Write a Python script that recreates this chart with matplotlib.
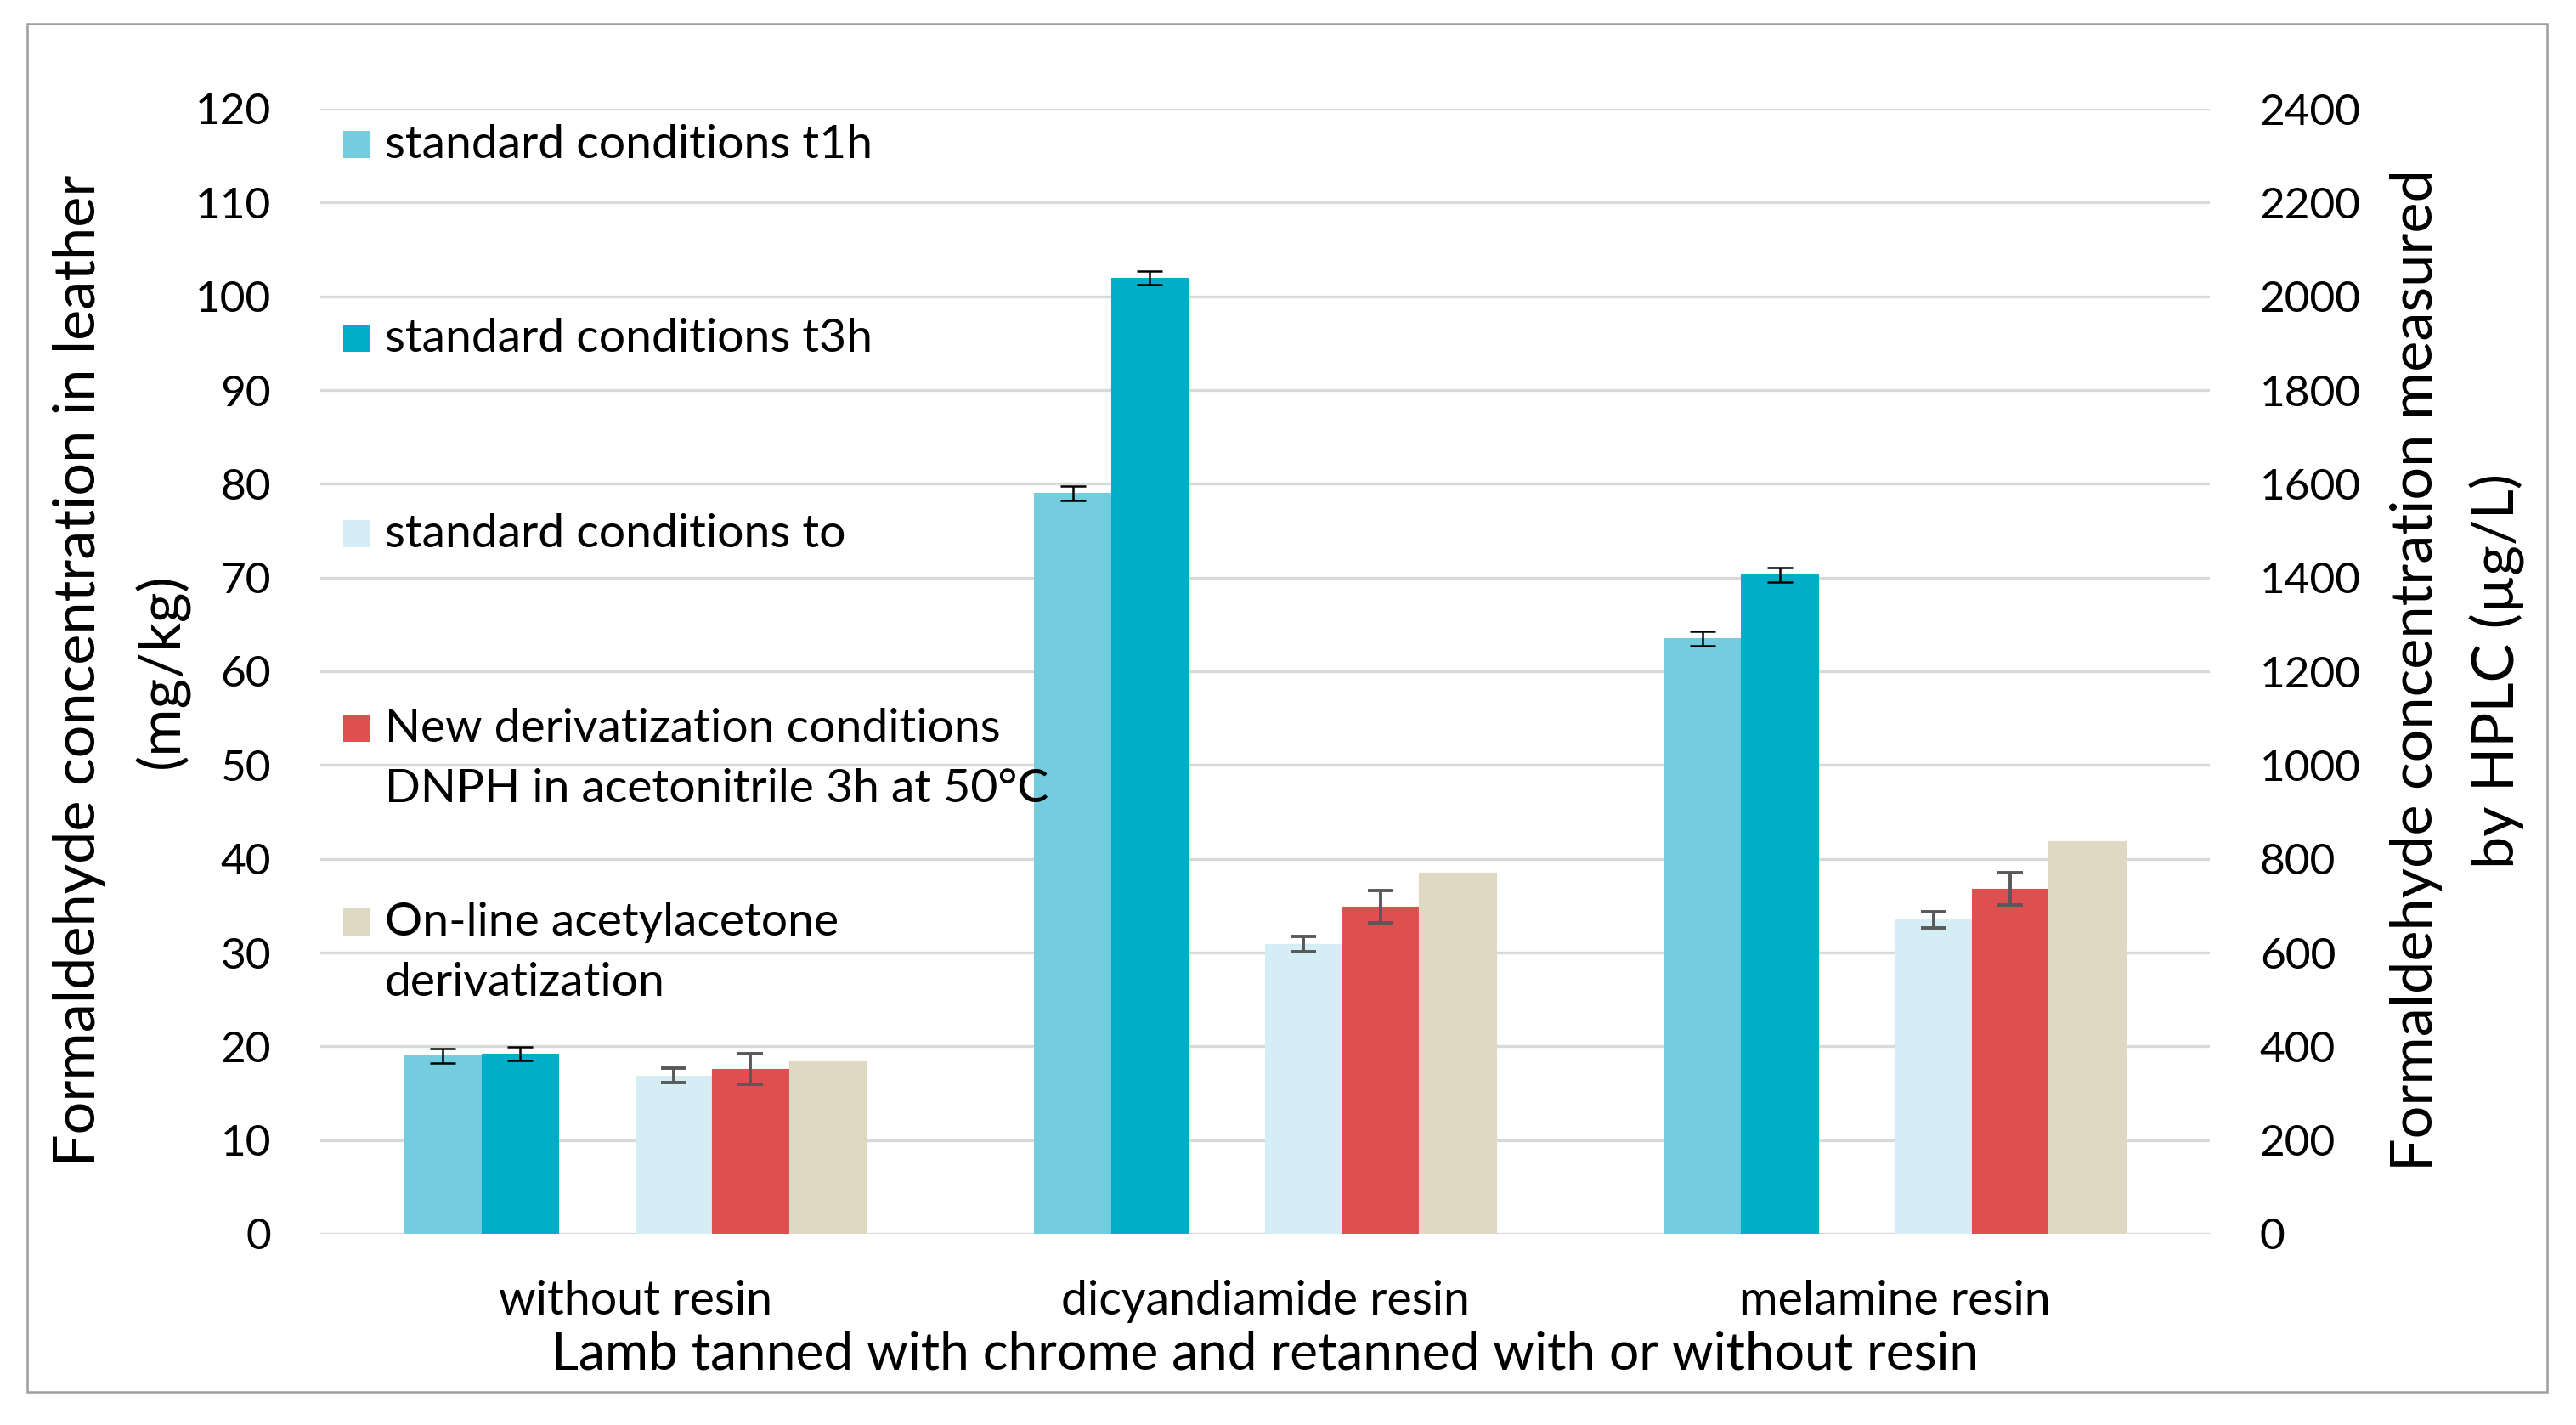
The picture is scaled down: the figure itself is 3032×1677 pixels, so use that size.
import matplotlib
matplotlib.use("Agg")
import matplotlib.pyplot as plt
from matplotlib.patches import Rectangle
import numpy as np

plt.rcParams['font.family'] = ['Lato', 'DejaVu Sans']

# ---------------- data ----------------
categories = ["without resin", "dicyandiamide resin", "melamine resin"]
series_names = ["standard conditions t1h", "standard conditions t3h", "standard conditions to",
                "New derivatization conditions\nDNPH in acetonitrile 3h at 50°C",
                "On-line acetylacetone\nderivatization"]
t1h = [19.0, 79.0, 63.5]
t1h_err = [0.8, 0.75, 0.78]
t3h = [19.2, 102.0, 70.3]
t3h_err = [0.75, 0.73, 0.78]
t0 = [16.9, 30.9, 33.5]
t0_err = [0.75, 0.85, 0.83]
new_deriv = [17.6, 34.9, 36.8]
new_deriv_err = [1.65, 1.7, 1.74]
online = [18.4, 38.5, 41.9]

left_ticks = list(range(0, 121, 10))
right_ticks = list(range(0, 2401, 200))

colors = ["#74CCDF", "#00AEC7", "#D5EEF5", "#DE4F4F", "#DFD9C3"]

W, H, DPI = 3032, 1677, 200
fig = plt.figure(figsize=(W / DPI, H / DPI), dpi=DPI)

def fx(px):
    return px / W

def fy(py):
    return 1 - py / H

ax_l, ax_r, ax_t, ax_b = 377, 2601, 128, 1452
ax = fig.add_axes([fx(ax_l), fy(ax_b), fx(ax_r) - fx(ax_l), fy(ax_t) - fy(ax_b)])

x = np.arange(len(categories))
bw = 0.1221
offsets = [-2.5, -1.5, 0.5, 1.5, 2.5]
values = [t1h, t3h, t0, new_deriv, online]
errs = [t1h_err, t3h_err, t0_err, new_deriv_err, None]
ecols = ["black", "black", "#595959", "#595959", None]
elws = [0.9, 0.9, 1.4, 1.4, None]

for vals, err, off, col, ec, elw in zip(values, errs, offsets, colors, ecols, elws):
    ax.bar(x + off * bw, vals, width=bw, color=col, edgecolor=col, linewidth=0.4, zorder=2)
    if err is not None:
        ax.errorbar(x + off * bw, vals, yerr=err, fmt='none', ecolor=ec, elinewidth=elw,
                    capsize=5.4, capthick=elw, zorder=3)

ax.set_xlim(-0.5, 2.5)
ax.set_ylim(0, 120)
ax.set_yticks(left_ticks)
ax.yaxis.grid(True, color="#D9D9D9", linewidth=1.2, zorder=0)
ax.set_axisbelow(True)
for s in ax.spines.values():
    s.set_visible(False)
ax.tick_params(axis='y', length=0, pad=20.9, labelsize=18.5)
ax.set_xticks(x)
ax.set_xticklabels(categories)
ax.tick_params(axis='x', length=0, pad=19.5, labelsize=20)

ax2 = ax.twinx()
ax2.set_ylim(0, 2400)
ax2.set_yticks(right_ticks)
for s in ax2.spines.values():
    s.set_visible(False)
ax2.tick_params(axis='y', length=0, pad=21.2, labelsize=18.5)

# axis titles
fig.text(fx(1489), fy(1612), "Lamb tanned with chrome and retanned with or without resin",
         ha='center', va='baseline', fontsize=22.4)
fig.text(fx(93), fy(789), "Formaldehyde concentration in leather", rotation=90,
         ha='center', va='center', fontsize=24.6)
fig.text(fx(190), fy(789), "(mg/kg)", rotation=90, ha='center', va='center', fontsize=24.6)
fig.text(fx(2844), fy(789), "Formaldehyde concentration measured", rotation=90,
         ha='center', va='center', fontsize=24.6)
fig.text(fx(2939), fy(789), "by HPLC (µg/L)", rotation=90, ha='center', va='center', fontsize=24.6)

# legend (manual, one entry per series)
legend_rows = [170, 398, 628, 857, 1085]
line_gap = 72
sq = 32
for name, col, yc in zip(series_names, colors, legend_rows):
    fig.patches.append(Rectangle((fx(404), fy(yc + sq / 2)), fx(sq), sq / H,
                                 transform=fig.transFigure, facecolor=col, edgecolor='none'))
    for i, line in enumerate(name.split("\n")):
        fig.text(fx(453), fy(yc + i * line_gap), line, ha='left', va='center', fontsize=19.9)

# outer frame
fig.patches.append(Rectangle((fx(32), fy(1638)), fx(2998) - fx(32), (1638 - 28) / H,
                             transform=fig.transFigure, facecolor='none',
                             edgecolor='#9E9E9E', linewidth=0.9))

fig.savefig("out.png", dpi=DPI)
